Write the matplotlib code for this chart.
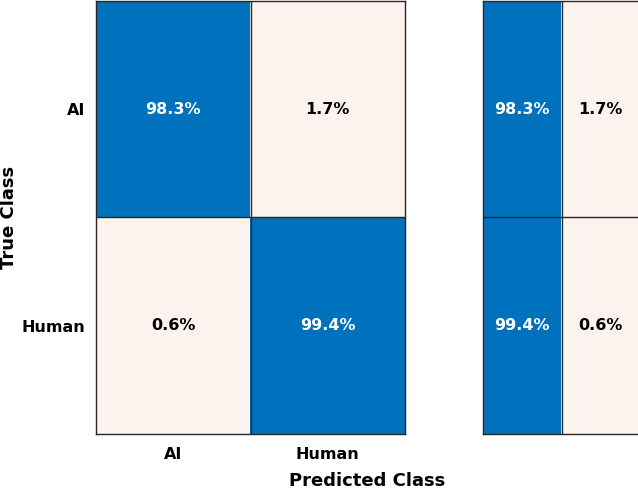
import numpy as np
import matplotlib
matplotlib.use("Agg")
import matplotlib.pyplot as plt
from matplotlib.colors import LinearSegmentedColormap

classes = ["AI", "Human"]
conf_pct = [[98.3, 1.7],
            [0.6, 99.4]]
row_summary_pct = [[98.3, 1.7],
                   [99.4, 0.6]]

light = "#FCF2EE"
blue = "#0072BD"
grid_col = "#262626"
cmap = LinearSegmentedColormap.from_list(
    "cc", [(0.0, light), (0.05, light), (0.95, blue), (1.0, blue)])

plt.rcParams['font.family'] = ['DejaVu Sans']
fig = plt.figure(figsize=(6.38, 4.90), dpi=100)

W, H = 638.0, 490.0
ax = fig.add_axes([96 / W, (H - 434) / H, (405 - 96) / W, (434 - 1) / H])
ax2 = fig.add_axes([483 / W, (H - 434) / H, (640 - 483) / W, (434 - 1) / H])


def draw(a, data):
    arr = np.array(data)
    a.imshow(arr, cmap=cmap, vmin=0, vmax=100, aspect="auto",
             interpolation="nearest")
    n_r, n_c = arr.shape
    for i in range(n_r):
        for j in range(n_c):
            v = arr[i, j]
            a.text(j, i, f"{v:.1f}%", ha="center", va="center",
                   color="white" if v > 50 else "black",
                   fontsize=11.5, fontweight="bold")
    for k in range(1, n_r):
        a.axhline(k - 0.5, color=grid_col, lw=1.0)
    for k in range(1, n_c):
        a.axvline(k - 0.5, color=grid_col, lw=1.0)
    for s in a.spines.values():
        s.set_color(grid_col)
        s.set_linewidth(1.0)
    a.set_xlim(-0.5, n_c - 0.5)
    a.set_ylim(n_r - 0.5, -0.5)


draw(ax, conf_pct)
draw(ax2, row_summary_pct)

ax.set_xticks(range(len(classes)))
ax.set_xticklabels(classes, fontsize=11.5, fontweight="bold")
ax.set_yticks(range(len(classes)))
ax.set_yticklabels(classes, fontsize=11.5, fontweight="bold")
ax.tick_params(length=0, pad=8)
ax.tick_params(axis="x", pad=9)
ax2.set_xticks([])
ax2.set_yticks([])

fig.text(367 / W, (H - 481) / H, "Predicted Class", ha="center", va="center",
         fontsize=13, fontweight="bold")
fig.text(9 / W, (H - 217) / H, "True Class", ha="center", va="center",
         rotation=90, fontsize=13, fontweight="bold")

fig.savefig("out.png", dpi=100)
